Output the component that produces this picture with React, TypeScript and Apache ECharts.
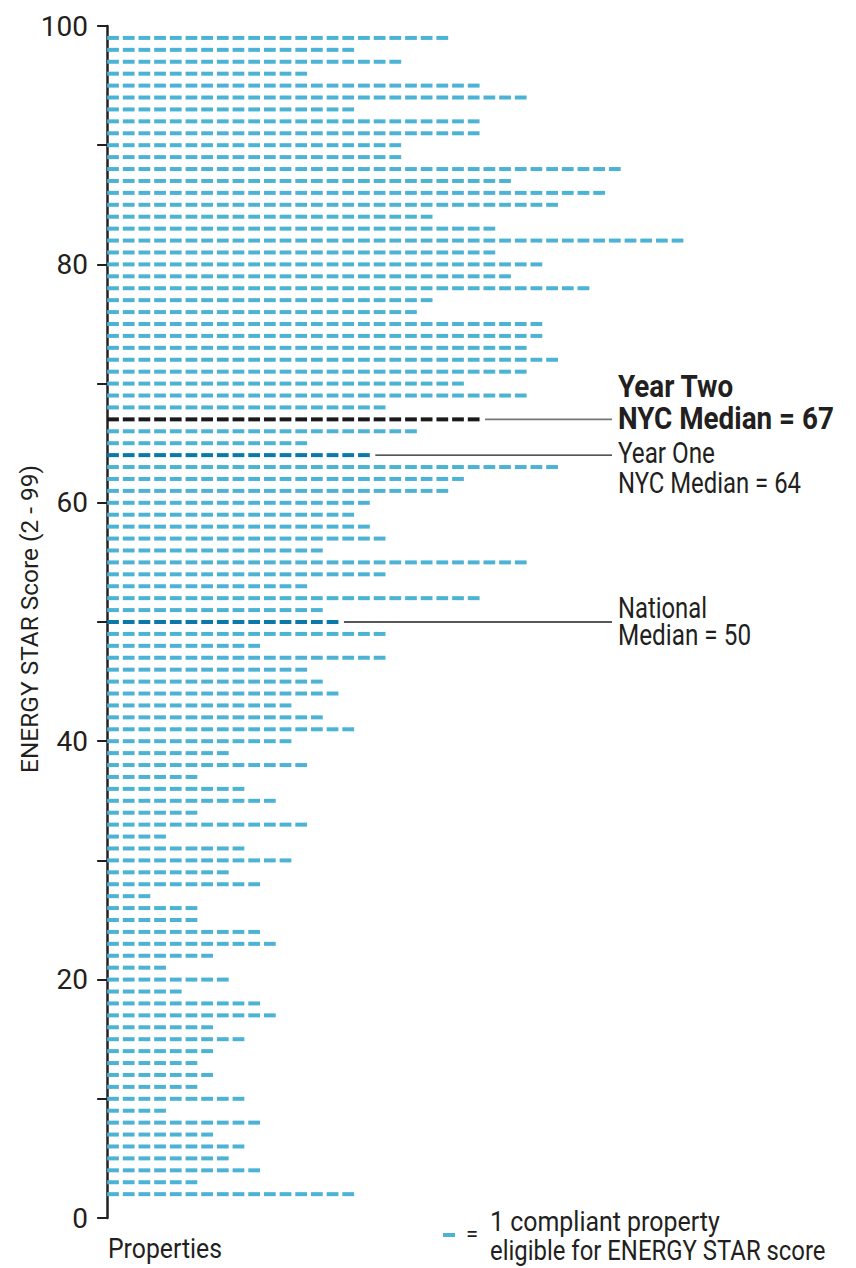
import React, { useEffect, useRef } from "react";
import * as echarts from "echarts";

const FONT = "Roboto, 'Noto Sans', sans-serif";
const INK = "#231f20";
const BLUE = "#4cb3d4";
const DARK_BLUE = "#0a78a8";
const BLACK = "#1a1a1a";

// ENERGY STAR scores (rows) and number of compliant properties in each row
const scores = [
  2, 3, 4, 5, 6, 7, 8, 9,
  10, 11, 12, 13, 14, 15, 16, 17, 18, 19,
  20, 21, 22, 23, 24, 25, 26, 27, 28, 29,
  30, 31, 32, 33, 34, 35, 36, 37, 38, 39,
  40, 41, 42, 43, 44, 45, 46, 47, 48, 49,
  50, 51, 52, 53, 54, 55, 56, 57, 58, 59,
  60, 61, 62, 63, 64, 65, 66, 67, 68, 69,
  70, 71, 72, 73, 74, 75, 76, 77, 78, 79,
  80, 81, 82, 83, 84, 85, 86, 87, 88, 89,
  90, 91, 92, 93, 94, 95, 96, 97, 98, 99,
];
const counts = [
  16, 6, 10, 8, 9, 7, 10, 4,
  9, 6, 7, 6, 7, 9, 7, 11, 10, 5,
  8, 4, 7, 11, 10, 6, 6, 3, 10, 8,
  12, 9, 4, 13, 6, 11, 9, 6, 13, 8,
  12, 16, 14, 12, 15, 14, 13, 18, 10, 18,
  15, 14, 24, 13, 18, 27, 14, 18, 17, 16,
  17, 22, 23, 29, 17, 13, 20, 24, 18, 27,
  23, 27, 29, 27, 28, 28, 20, 21, 31, 26,
  28, 25, 37, 25, 21, 29, 32, 26, 33, 19,
  19, 24, 24, 16, 27, 24, 13, 19, 16, 22,
];

// Y axis tick labels
const yTickLabels = [0, 20, 40, 60, 80, 100];

// Medians highlighted
const medianScores = [67, 64, 50];
const medianColors = [BLACK, DARK_BLUE, DARK_BLUE];
const medianLabels = [
  ["Year Two", "NYC Median = 67"],
  ["Year One", "NYC Median = 64"],
  ["National", "Median = 50"],
];

let measureCtx: CanvasRenderingContext2D | null = null;
function measure(text: string, font: string): number {
  if (!measureCtx) measureCtx = document.createElement("canvas").getContext("2d");
  if (!measureCtx) return 1;
  measureCtx.font = font;
  return measureCtx.measureText(text).width || 1;
}

function fitText(
  text: string,
  x: number,
  y: number,
  size: number,
  bold: boolean,
  width: number,
  extra: any = {}
) {
  const font = `${bold ? "bold " : ""}${size}px ${FONT}`;
  const sx = width / measure(text, font);
  return {
    type: "text",
    x,
    y,
    scaleX: sx,
    ...extra,
    style: {
      text,
      fill: INK,
      font,
      textAlign: extra.align || "left",
      textVerticalAlign: "middle",
    },
  };
}

export default function App() {
  const ref = useRef<HTMLDivElement>(null);

  useEffect(() => {
    const el = ref.current;
    if (!el) return;
    const chart = echarts.init(el, null, { renderer: "svg" });
    const data = scores.map((s, i) => [s, counts[i]]);

    const colorFor = (s: number) => {
      const k = medianScores.indexOf(s);
      return k >= 0 ? medianColors[k] : BLUE;
    };

    chart.setOption({
      animation: false,
      grid: { left: 104, right: 52, top: 26, bottom: 50 },
      xAxis: { type: "value", min: -0.2, max: 44.44, show: false },
      yAxis: {
        type: "value",
        min: 0,
        max: 100,
        interval: 10,
        axisLine: { show: true, lineStyle: { color: INK, width: 2.5 } },
        axisTick: { show: true, length: 10, lineStyle: { color: INK, width: 2 } },
        splitLine: { show: false },
        axisLabel: {
          margin: 16,
          fontSize: 28,
          color: INK,
          fontFamily: FONT,
          formatter: (v: number) => (yTickLabels.indexOf(v) >= 0 ? String(v) : ""),
        },
      },
      series: [
        {
          type: "custom",
          data,
          encode: { x: 1, y: 0 },
          clip: false,
          renderItem: (params: any, api: any) => {
            const s = api.value(0);
            const n = api.value(1);
            const color = colorFor(s);
            const children: any[] = [];
            for (let i = 0; i < n; i++) {
              const p0 = api.coord([i, s]);
              const p1 = api.coord([i + 0.75, s]);
              children.push({
                type: "rect",
                shape: { x: p0[0], y: p0[1] - 2, width: p1[0] - p0[0], height: 4 },
                style: { fill: color },
              });
            }
            return { type: "group", children };
          },
        },
      ],
    });

    const px = (x: number, y: number) => chart.convertToPixel({ gridIndex: 0 }, [x, y]) as number[];
    const graphics: any[] = [];
    const TEXT_X = 618;
    const LINE_END = 612;
    // size, bold, widths of line1/line2, y offsets of line1/line2
    const labelSpecs = [
      { size: 31, bold: true, widths: [116, 216], offs: [-33, -1] },
      { size: 29, bold: false, widths: [97, 183], offs: [-2, 28] },
      { size: 29, bold: false, widths: [89, 133], offs: [-14, 13] },
    ];
    medianScores.forEach((s, k) => {
      const n = counts[scores.indexOf(s)];
      const a = px(n + 0.1, s);
      const ly = a[1];
      graphics.push({
        type: "line",
        shape: { x1: a[0], y1: ly, x2: LINE_END, y2: ly },
        style: { stroke: k === 0 ? "#777" : INK, lineWidth: k === 0 ? 1.6 : 1.3 },
      });
      const spec = labelSpecs[k];
      medianLabels[k].forEach((t, j) => {
        graphics.push(fitText(t, TEXT_X, ly + spec.offs[j], spec.size, spec.bold, spec.widths[j]));
      });
    });

    // Y axis title
    graphics.push(
      fitText("ENERGY STAR Score (2 - 99)", 30, 619, 24, false, 308, { rotation: Math.PI / 2, align: "center" })
    );
    // X axis title
    graphics.push(fitText("Properties", 108, 1248, 28, false, 114));
    // Legend
    graphics.push({ type: "rect", shape: { x: 443, y: 1233, width: 12, height: 4 }, style: { fill: BLUE } });
    graphics.push({
      type: "text",
      x: 472,
      y: 1233,
      style: { text: "=", fill: INK, font: `22px ${FONT}`, textAlign: "center", textVerticalAlign: "middle" },
    });
    graphics.push(fitText("1 compliant property", 490, 1221, 28, false, 230));
    graphics.push(fitText("eligible for ENERGY STAR score", 490, 1250, 28, false, 336));

    chart.setOption({ graphic: graphics });

    return () => chart.dispose();
  }, []);

  return (
    <div
      ref={ref}
      style={{ position: "fixed", left: 0, top: 0, width: 856, height: 1268, background: "#fff" }}
    />
  );
}
